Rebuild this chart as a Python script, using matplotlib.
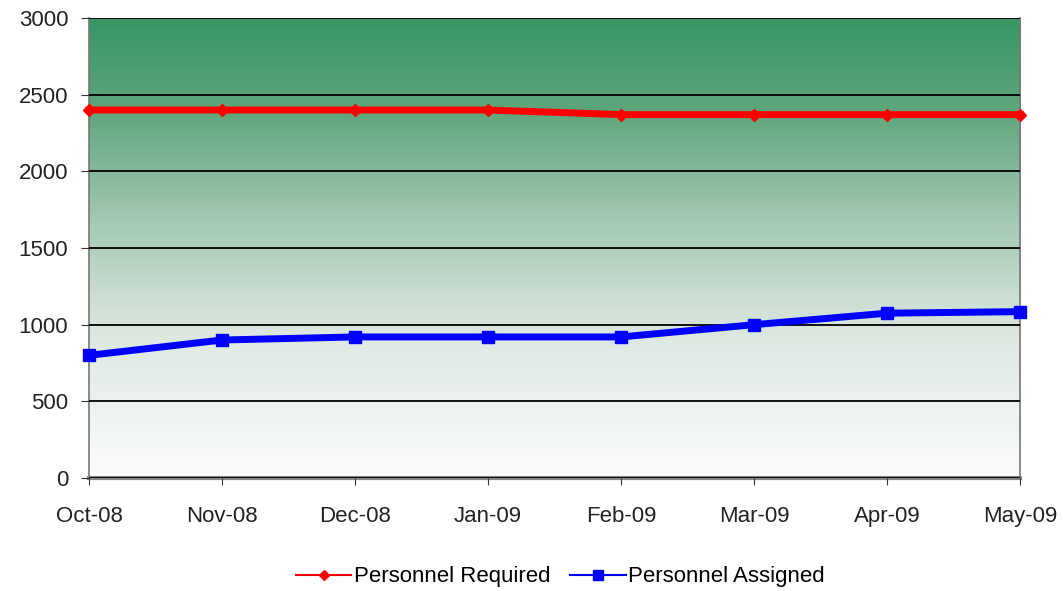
import numpy as np
import matplotlib
matplotlib.use("Agg")
import matplotlib.pyplot as plt
from matplotlib.colors import LinearSegmentedColormap
from matplotlib.lines import Line2D

months = ["Oct-08", "Nov-08", "Dec-08", "Jan-09", "Feb-09", "Mar-09", "Apr-09", "May-09"]
required = [2400, 2400, 2400, 2400, 2370, 2370, 2370, 2370]
assigned = [800, 900, 920, 920, 920, 1000, 1075, 1085]

plt.rcParams['font.family'] = ['Liberation Sans', 'DejaVu Sans']

fig = plt.figure(figsize=(10.63, 5.91), dpi=100)
ax = fig.add_axes([0.0837, 0.1912, 0.876, 0.7783])

x = np.arange(len(months))

# background gradient, dark green at top fading to white
cmap = LinearSegmentedColormap.from_list(
    "bg", [(0.0, "#fbfcfb"), (0.3, "#dfe9e3"), (0.55, "#a6cab4"), (0.8, "#5fa57c"), (1.0, "#369664")])
grad = np.linspace(0, 1, 256).reshape(-1, 1)
ax.imshow(grad, aspect='auto', cmap=cmap, origin='lower',
          extent=[0, len(months) - 1, 0, 3000], zorder=0)

ax.set_xlim(0, len(months) - 1)
ax.set_ylim(0, 3000)
ax.set_yticks(range(0, 3001, 500))
ax.yaxis.grid(True, color='black', linewidth=1.3, zorder=1)
ax.set_axisbelow(False)

ax.plot(x, required, color='#ff0000', linewidth=5, marker='D', markersize=6,
        label='Personnel Required', zorder=3, clip_on=False)
ax.plot(x, assigned, color='#0000ff', linewidth=5, marker='s', markersize=9,
        label='Personnel Assigned', zorder=3, clip_on=False)

ax.set_xticks(x)
ax.set_xticklabels(months)
ax.tick_params(axis='x', direction='out', length=5, labelsize=16, pad=15, color='#333333')
ax.tick_params(axis='y', direction='out', length=6, labelsize=16, pad=9, color='#333333')
for lbl in ax.get_xticklabels() + ax.get_yticklabels():
    lbl.set_color('#222222')

for s in ['left', 'right']:
    ax.spines[s].set_color('#777777')
    ax.spines[s].set_linewidth(1.2)
ax.spines['bottom'].set_color('#888888')
ax.spines['bottom'].set_linewidth(3)
ax.spines['top'].set_visible(False)

# legend handles drawn thinner than the series
handles = [Line2D([], [], color='#ff0000', linewidth=1.5, marker='D', markersize=5),
           Line2D([], [], color='#0000ff', linewidth=1.5, marker='s', markersize=7)]
fig.legend(handles, ['Personnel Required', 'Personnel Assigned'], loc='center',
           bbox_to_anchor=(0.527, 0.024), ncol=2, frameon=False, fontsize=16,
           handlelength=2.5, handletextpad=0.1, columnspacing=0.9)

fig.savefig("out.png", dpi=100)
